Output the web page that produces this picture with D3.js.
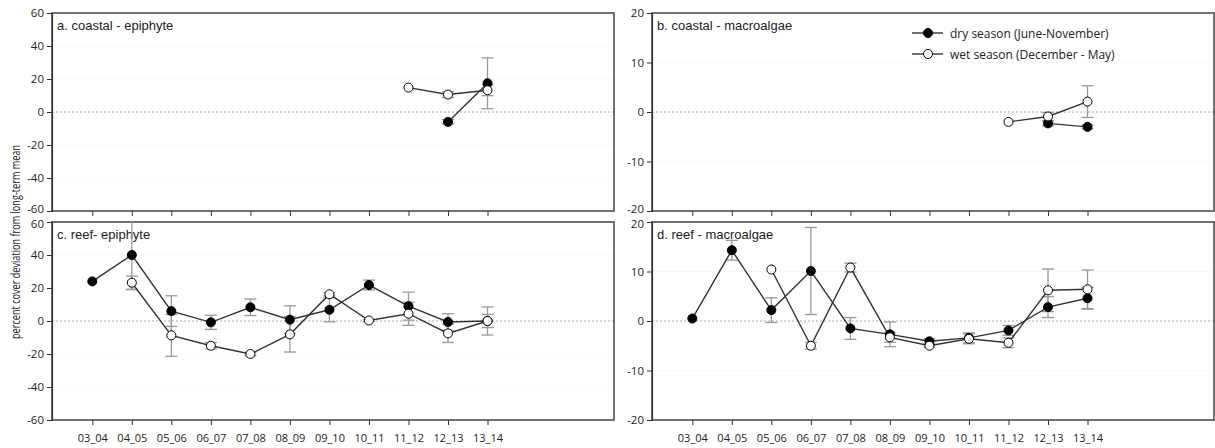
<!DOCTYPE html>
<html>
<head>
<meta charset="utf-8">
<script src="https://cdn.jsdelivr.net/npm/d3@7"></script>
<style>
  body { margin: 0; background: #fff; }
  svg { display: block; }
  .tick-label { font-family: "Open Sans", "Noto Sans", sans-serif; font-size: 11px; fill: #222; }
  .title { font-family: "Liberation Sans", Arial, sans-serif; font-size: 13px; fill: #222; }
  .legend { font-family: "Open Sans", "Noto Sans", sans-serif; font-size: 12px; fill: #222; }
</style>
</head>
<body>
<svg id="chart" width="1215" height="448"></svg>
<script>
const categories = ["03_04","04_05","05_06","06_07","07_08","08_09","09_10","10_11","11_12","12_13","13_14"];
const epiTicks = [-60, -40, -20, 0, 20, 40, 60];
const macTicks = [-20, -10, 0, 10, 20];
const seriesNames = ["dry season (June-November)", "wet season (December - May)"];

// a. coastal - epiphyte
const coastalEpiDry    = [null,null,null,null,null,null,null,null,null,-6.0,17.4];
const coastalEpiDryErr = [0,0,0,0,0,0,0,0,0,1.5,15.4];
const coastalEpiWet    = [null,null,null,null,null,null,null,null,14.8,10.6,13.2];
const coastalEpiWetErr = [0,0,0,0,0,0,0,0,0,1.8,3.3];
// b. coastal - macroalgae
const coastalMacDry    = [null,null,null,null,null,null,null,null,null,-2.3,-3.0];
const coastalMacDryErr = [0,0,0,0,0,0,0,0,0,0.5,0.4];
const coastalMacWet    = [null,null,null,null,null,null,null,null,-2.0,-0.9,2.1];
const coastalMacWetErr = [0,0,0,0,0,0,0,0,0,0.8,3.2];
// c. reef - epiphyte
const reefEpiDry    = [24, 40, 6.0, -0.8, 8.3, 0.8, 6.8, 21.8, 9.0, -0.6, 0];
const reefEpiDryErr = [0, 21, 9.3, 4.3, 5.0, 8.4, 7.3, 3.0, 8.5, 5.0, 4.0];
const reefEpiWet    = [null, 23.2, -8.7, -15.0, -20.0, -8.1, 16.2, 0.3, 4.4, -7.5, 0];
const reefEpiWetErr = [0, 4.0, 12.7, 2.0, 1.0, 10.7, 1.0, 0.5, 7.0, 5.5, 8.5];
// d. reef - macroalgae
const reefMacDry    = [0.5, 14.3, 2.2, 10.1, -1.5, -2.7, -4.1, -3.4, -1.9, 2.8, 4.6];
const reefMacDryErr = [0, 2.0, 2.5, 8.8, 2.2, 2.5, 0.5, 1.0, 1.0, 2.1, 2.2];
const reefMacWet    = [null, null, 10.4, -5.0, 10.8, -3.3, -5.0, -3.6, -4.4, 6.2, 6.4];
const reefMacWetErr = [0, 0, 0, 0.7, 0.9, 1.0, 0.3, 1.0, 1.0, 4.3, 3.9];

const panels = [
  {title: "a. coastal - epiphyte",  left: 52,  top: 13,  ticks: epiTicks, dry: coastalEpiDry, dryErr: coastalEpiDryErr, wet: coastalEpiWet, wetErr: coastalEpiWetErr, xLabels: false, legend: false, upper: true},
  {title: "b. coastal - macroalgae", left: 652, top: 13, ticks: macTicks, dry: coastalMacDry, dryErr: coastalMacDryErr, wet: coastalMacWet, wetErr: coastalMacWetErr, xLabels: false, legend: true, upper: true},
  {title: "c. reef- epiphyte",      left: 52,  top: 222, ticks: epiTicks, dry: reefEpiDry, dryErr: reefEpiDryErr, wet: reefEpiWet, wetErr: reefEpiWetErr, xLabels: true, legend: false, upper: false},
  {title: "d. reef - macroalgae",   left: 652, top: 222, ticks: macTicks, dry: reefMacDry, dryErr: reefMacDryErr, wet: reefMacWet, wetErr: reefMacWetErr, xLabels: true, legend: false, upper: false}
];
const W = 562, H = 198;

const svg = d3.select("#chart");

panels.forEach((p, pi) => {
  const g = svg.append("g").attr("transform", `translate(${p.left},${p.top})`);
  const x = d3.scaleLinear().domain([-1.02, 13.2]).range([0, W]);
  const yMin = d3.min(p.ticks), yMax = d3.max(p.ticks);
  const y = d3.scaleLinear().domain([yMin, yMax]).range([H, 0]);

  const clipId = "clip" + pi;
  g.append("clipPath").attr("id", clipId).append("rect").attr("width", W).attr("height", H);

  // faint grid
  g.selectAll(".grid").data(p.ticks.filter(t => t !== 0 && t !== yMin && t !== yMax))
    .enter().append("line")
    .attr("x1", 0).attr("x2", W).attr("y1", d => y(d)).attr("y2", d => y(d))
    .attr("stroke", "#f2f2f2").attr("stroke-dasharray", "2,2");
  // zero line
  g.append("line").attr("x1", 0).attr("x2", W).attr("y1", y(0)).attr("y2", y(0))
    .attr("stroke", "#aaa").attr("stroke-width", 1).attr("stroke-dasharray", "2,2");

  // frame
  g.append("rect").attr("width", W).attr("height", H)
    .attr("fill", "none").attr("stroke", "#5a5a5a").attr("stroke-width", 1.7);

  // y axis
  const yAxis = d3.axisLeft(y).tickValues(p.ticks).tickSize(5).tickPadding(3).tickFormat(d => String(d));
  const ya = g.append("g").call(yAxis);
  ya.select(".domain").attr("stroke", "#333").attr("stroke-width", 1.2);
  ya.selectAll(".tick line").attr("stroke", "#333");
  ya.selectAll("text").attr("class", "tick-label").style("font-size", "11.5px").attr("fill", "#222")
    .attr("dy", d => {
      if (p.upper && d === yMin) return "0.1em";
      if (!p.upper && d === yMax) return "0.5em";
      return "0.32em";
    });

  // x axis
  const xAxis = d3.axisBottom(x).tickValues(d3.range(categories.length)).tickSize(5)
    .tickPadding(9).tickFormat(i => p.xLabels ? categories[i] : "");
  const xa = g.append("g").attr("transform", `translate(0,${H})`).call(xAxis);
  xa.select(".domain").remove();
  xa.selectAll(".tick line").attr("stroke", "#333");
  xa.selectAll("text").attr("class", "tick-label").attr("fill", "#222");
  if (!p.xLabels) xa.selectAll("text").remove();

  // title
  g.append("text").attr("class", "title").attr("x", 5).attr("y", 17).text(p.title);

  const plot = g.append("g").attr("clip-path", `url(#${clipId})`);

  const series = [
    {vals: p.dry, err: p.dryErr, fill: "#000"},
    {vals: p.wet, err: p.wetErr, fill: "#fff"}
  ];
  // error bars
  series.forEach(s => {
    const pts = s.vals.map((v, i) => ({i, v, e: s.err[i]})).filter(d => d.v !== null && d.e > 0);
    const eg = plot.append("g").attr("stroke", "#999").attr("stroke-width", 1.3);
    pts.forEach(d => {
      eg.append("line").attr("x1", x(d.i)).attr("x2", x(d.i)).attr("y1", y(d.v - d.e)).attr("y2", y(d.v + d.e));
      [d.v - d.e, d.v + d.e].forEach(vv => {
        eg.append("line").attr("x1", x(d.i) - 6).attr("x2", x(d.i) + 6).attr("y1", y(vv)).attr("y2", y(vv));
      });
    });
  });
  // lines and markers
  const line = d3.line().defined(d => d.v !== null).x(d => x(d.i)).y(d => y(d.v));
  series.forEach(s => {
    const pts = s.vals.map((v, i) => ({i, v}));
    plot.append("path").datum(pts).attr("d", line).attr("fill", "none")
      .attr("stroke", "#333").attr("stroke-width", 1.4);
  });
  series.forEach(s => {
    const pts = s.vals.map((v, i) => ({i, v})).filter(d => d.v !== null);
    plot.selectAll(null).data(pts).enter().append("circle")
      .attr("cx", d => x(d.i)).attr("cy", d => y(d.v)).attr("r", 4.5)
      .attr("fill", s.fill).attr("stroke", "#000").attr("stroke-width", 1);
  });

  if (p.legend) {
    const lg = g.append("g").attr("transform", "translate(260,20)");
    seriesNames.forEach((name, k) => {
      const row = lg.append("g").attr("transform", `translate(0,${k * 21})`);
      row.append("line").attr("x1", 0).attr("x2", 31).attr("y1", 0).attr("y2", 0)
        .attr("stroke", "#333").attr("stroke-width", 1.4);
      row.append("circle").attr("cx", 16).attr("cy", 0).attr("r", 4.5)
        .attr("fill", k === 0 ? "#000" : "#fff").attr("stroke", "#000");
      row.append("text").attr("class", "legend").attr("x", 38).attr("y", 4.5).text(name);
    });
  }
});

// shared y label
svg.append("text").attr("class", "legend")
  .attr("transform", "translate(20,242) rotate(-90)")
  .attr("text-anchor", "middle").style("font-size", "12px")
  .attr("textLength", 194).attr("lengthAdjust", "spacingAndGlyphs")
  .text("percent cover deviation from long-term mean");
</script>
</body>
</html>
